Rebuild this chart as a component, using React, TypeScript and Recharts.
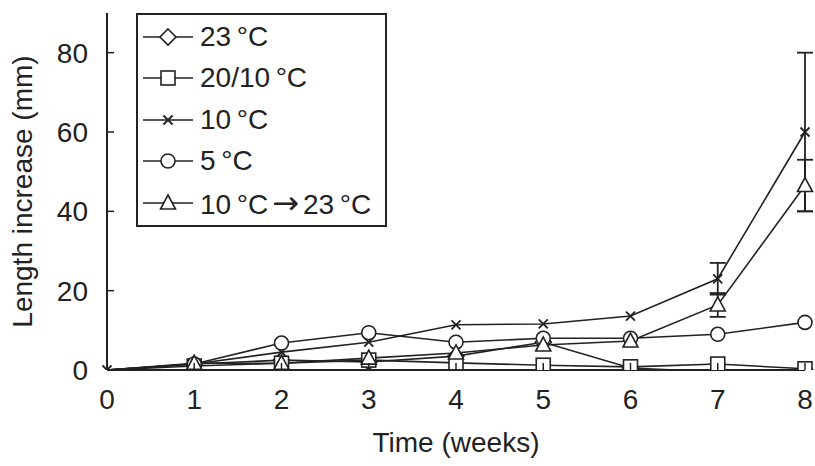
import React from 'react';
import { LineChart, Line, XAxis, YAxis, ErrorBar } from 'recharts';

const weeks = [0, 1, 2, 3, 4, 5, 6, 7, 8];
const t23 = [0, 1.5, 2.5, 2, 3.5, 7, 0.5, -0.5, 0];
const t2010 = [0, 1, 1.7, 2.5, 1.8, 1.2, 0.8, 1.5, 0.3];
const t10 = [0, 1.5, 4.5, 7, 11.4, 11.6, 13.6, 23, 60];
const t5 = [0, 1.5, 6.8, 9.4, 7, 8, 8, 9, 12];
const t10to23 = [0, 1.7, 1.7, 3, 4.3, 6.3, 7.3, 16.4, 46.5];
const err10 = [0, 0, 0, 0, 0, 0, 0, 4, 20];
const err10to23 = [0, 0, 0, 0, 0, 0, 0, 3, 6.5];
const yTicks = [0, 20, 40, 60, 80];

const seriesNames = ['23\u2009°C', '20/10\u2009°C', '10\u2009°C', '5\u2009°C', '10\u2009°C\u2192 23\u2009°C'];
const seriesKeys = ['t23', 't2010', 't10', 't5', 't10to23'];
const seriesShapes = ['diamond', 'square', 'cross', 'circle', 'triangle'];

const data = weeks.map((w, i) => ({
  week: w,
  t23: t23[i],
  t2010: t2010[i],
  t10: t10[i],
  t5: t5[i],
  t10to23: t10to23[i],
  err10: err10[i],
  err10to23: err10to23[i],
}));

const INK = '#222';
const FONT = '"Liberation Sans", Arial, Helvetica, sans-serif';

function Marker({ cx, cy, shape }: { cx?: number; cy?: number; shape: string }) {
  if (cx == null || cy == null) return null;
  const common = { fill: '#fff', stroke: INK, strokeWidth: 1.6 };
  switch (shape) {
    case 'diamond':
      return <polygon points={`${cx},${cy - 8} ${cx + 8},${cy} ${cx},${cy + 8} ${cx - 8},${cy}`} {...common} />;
    case 'square':
      return <rect x={cx - 7} y={cy - 7} width={14} height={14} {...common} />;
    case 'cross':
      return (
        <path
          d={`M${cx - 4.5},${cy - 4.5}L${cx + 4.5},${cy + 4.5}M${cx + 4.5},${cy - 4.5}L${cx - 4.5},${cy + 4.5}`}
          stroke={INK}
          strokeWidth={1.8}
          fill="none"
        />
      );
    case 'circle':
      return <circle cx={cx} cy={cy} r={7} {...common} />;
    case 'triangle':
      return <polygon points={`${cx},${cy - 8} ${cx + 7.5},${cy + 6} ${cx - 7.5},${cy + 6}`} {...common} />;
    default:
      return null;
  }
}

function XTick(props: any) {
  const { x, y, payload } = props;
  return (
    <g>
      <line x1={x} y1={y} x2={x} y2={y - 7} stroke={INK} strokeWidth={1.5} />
      <text x={x} y={y + 39} textAnchor="middle" fontSize={28} fontFamily={FONT} fill={INK}>
        {payload.value}
      </text>
    </g>
  );
}

function YTick(props: any) {
  const { x, y, payload } = props;
  return (
    <g>
      <line x1={x} y1={y} x2={x + 7} y2={y} stroke={INK} strokeWidth={1.5} />
      <text x={x - 19} y={y + 10} textAnchor="end" fontSize={28} fontFamily={FONT} fill={INK}>
        {payload.value}
      </text>
    </g>
  );
}

// arrow glyph drawn in DejaVu, which has a longer arrow than Liberation
function LegendLabel({ text }: { text: string }) {
  const parts = text.split('\u2192');
  if (parts.length === 1) return <span>{text}</span>;
  return (
    <span>
      {parts[0]}
      <span style={{ fontFamily: '"DejaVu Sans"', fontSize: 32, margin: '0 4px' }}>{'\u2192'}</span>
      {parts[1].trimStart()}
    </span>
  );
}

function LegendBox() {
  return (
    <div
      style={{
        position: 'absolute',
        left: 136,
        top: 13,
        width: 251,
        height: 214,
        boxSizing: 'border-box',
        border: `2px solid ${INK}`,
        background: '#fff',
        padding: '1px 0 0 5px',
        fontFamily: FONT,
        fontSize: 28,
        color: INK,
      }}
    >
      {seriesNames.map((name, i) => (
        <div key={name} style={{ display: 'flex', alignItems: 'center', height: 41.5 }}>
          <svg width={50} height={20} style={{ marginRight: 7, overflow: 'visible' }}>
            <line x1={0} y1={10} x2={50} y2={10} stroke={INK} strokeWidth={1.6} />
            <Marker cx={25} cy={10} shape={seriesShapes[i]} />
          </svg>
          <span style={{ whiteSpace: 'nowrap', lineHeight: 1 }}>
            <LegendLabel text={name} />
          </span>
        </div>
      ))}
    </div>
  );
}

export default function App() {
  return (
    <div style={{ position: 'absolute', left: 0, top: 0, width: 815, height: 466, background: '#fff' }}>
      <LineChart width={815} height={466} data={data} margin={{ top: 13, right: 10, bottom: 66, left: 0 }}>
        <XAxis
          dataKey="week"
          type="number"
          domain={[0, 8]}
          ticks={weeks}
          height={30}
          tickSize={0}
          tickMargin={0}
          axisLine={{ stroke: INK, strokeWidth: 2 }}
          tickLine={false}
          tick={<XTick />}
          label={{
            value: 'Time (weeks)',
            position: 'bottom',
            offset: 32,
            style: { fontSize: 28, fontFamily: FONT, fill: INK },
          }}
        />
        <YAxis
          type="number"
          domain={[0, 90]}
          ticks={yTicks}
          allowDataOverflow
          width={107}
          tickSize={0}
          tickMargin={0}
          axisLine={{ stroke: INK, strokeWidth: 2 }}
          tickLine={false}
          tick={<YTick />}
          label={{
            value: 'Length increase (mm)',
            angle: -90,
            position: 'insideLeft',
            offset: 22,
            style: { fontSize: 28, fontFamily: FONT, fill: INK, textAnchor: 'middle' },
          }}
        />
        {seriesKeys.map((key, i) => (
          <Line
            key={key}
            dataKey={key}
            name={seriesNames[i]}
            type="linear"
            stroke={INK}
            strokeWidth={1.6}
            isAnimationActive={false}
            dot={(p: any) =>
              // at the origin only the cross marker shows in the reference
              p.index === 0 && seriesShapes[i] !== 'cross' ? (
                <g key={`${key}-${p.index}`} />
              ) : (
                <Marker key={`${key}-${p.index}`} cx={p.cx} cy={p.cy} shape={seriesShapes[i]} />
              )
            }
            activeDot={false}
          >
            {key === 't10' && <ErrorBar dataKey="err10" width={8} stroke={INK} strokeWidth={1.8} direction="y" />}
            {key === 't10to23' && (
              <ErrorBar dataKey="err10to23" width={8} stroke={INK} strokeWidth={1.8} direction="y" />
            )}
          </Line>
        ))}
      </LineChart>
      <LegendBox />
    </div>
  );
}
